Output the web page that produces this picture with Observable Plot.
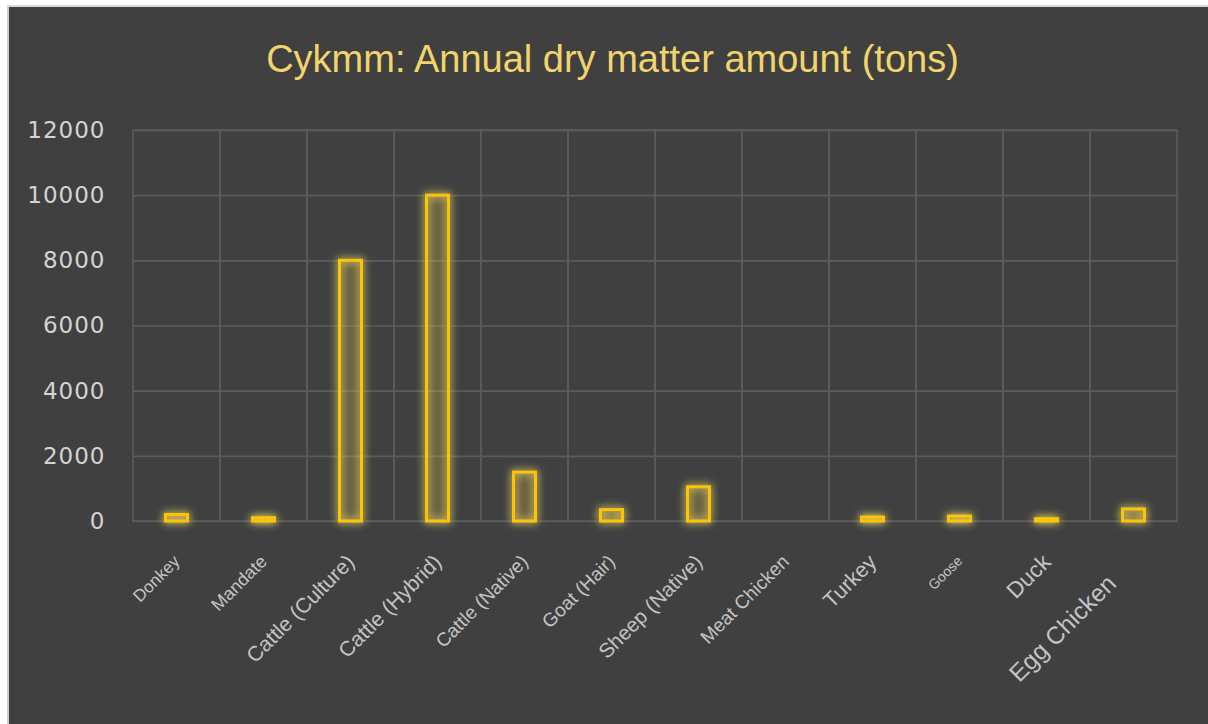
<!DOCTYPE html>
<html>
<head>
<meta charset="utf-8">
<script src="https://cdn.jsdelivr.net/npm/d3@7"></script>
<script src="https://cdn.jsdelivr.net/npm/@observablehq/plot@0.6"></script>
<style>
  html, body { margin: 0; padding: 0; background: #ffffff; width: 1208px; height: 724px; overflow: hidden; }
  #wrap { position: absolute; left: 7px; top: 5px; width: 1201px; height: 719px;
          border-left: 2px solid #cfcfcf; border-top: 2px solid #d8d8d8; background: #404040; }
  #title { position: absolute; left: 4px; top: 33px; width: 1199px; text-align: center;
           font-family: "Liberation Sans", Arial, sans-serif; font-size: 38px; line-height: 38px;
           color: #f2d46c; white-space: nowrap; }
  #chart { position: absolute; left: 0; top: 0; }
</style>
</head>
<body>
<div id="wrap">
  <div id="title">Cykmm: Annual dry matter amount (tons)</div>
  <div id="chart"></div>
</div>
<script>
// ---- data ----
const categories = ["Donkey", "Mandate", "Cattle (Culture)", "Cattle (Hybrid)", "Cattle (Native)",
  "Goat (Hair)", "Sheep (Native)", "Meat Chicken", "Turkey", "Goose", "Duck", "Egg Chicken"];
const amounts = [200, 100, 8000, 10000, 1500, 350, 1050, 0, 120, 150, 70, 370];
const yTicks = [0, 2000, 4000, 6000, 8000, 10000, 12000];

// ---- styling (not data) ----
const labelSize = {
  "Donkey": 17, "Mandate": 18, "Cattle (Culture)": 21, "Cattle (Hybrid)": 21,
  "Cattle (Native)": 19, "Goat (Hair)": 19, "Sheep (Native)": 20.5, "Meat Chicken": 19,
  "Turkey": 21.5, "Goose": 14, "Duck": 22.5, "Egg Chicken": 24.5
};
const gridColor = "#5b5b5b";
const gold = "#ffc400";

const rows = categories.map((c, i) => ({category: c, amount: amounts[i]}));
const isEgg = d => d === "Egg Chicken";

const labelOpts = {x: d => d, y: () => 0, text: d => d, rotate: -45, textAnchor: "end",
  fontSize: d => labelSize[d], fill: "#c4c4c4",
  fontFamily: "Liberation Sans, Arial, sans-serif"};

const plot = Plot.plot({
  width: 1199,
  height: 717,
  marginLeft: 124,
  marginRight: 31,
  marginTop: 123,
  marginBottom: 203,
  style: {background: "transparent", color: "#d9d9d9", fontFamily: "Liberation Sans, Arial, sans-serif", overflow: "visible"},
  x: {type: "band", domain: categories, padding: 0, axis: null},
  y: {domain: [0, 12000], axis: null},
  marks: [
    Plot.ruleY(yTicks, {stroke: gridColor, strokeWidth: 1.6}),
    Plot.barY(categories, {x: d => d, y1: () => 0, y2: () => 12000, fill: "none",
      stroke: gridColor, strokeWidth: 1.6}),
    Plot.axisY({ticks: yTicks, tickSize: 0, tickPadding: 28, fontSize: 23,
      fontFamily: "DejaVu Sans", fill: "#d4d4d4", label: null, tickFormat: d => String(d),
      ariaDescription: "yticks"}),
    Plot.barY(rows, {x: "category", y: "amount", fill: gold, fillOpacity: 0.1,
      stroke: gold, strokeWidth: 3, insetLeft: 32.5, insetRight: 32.5, ariaDescription: "values"}),
    Plot.text(categories.filter(d => !isEgg(d)), {...labelOpts, dx: 0, dy: 37}),
    Plot.text(categories.filter(isEgg), {...labelOpts, dx: -22, dy: 58})
  ]
});

// soft golden glow around the bars
const ns = "http://www.w3.org/2000/svg";
const defs = document.createElementNS(ns, "defs");
const filter = document.createElementNS(ns, "filter");
filter.setAttribute("id", "glow");
filter.setAttribute("filterUnits", "userSpaceOnUse");
filter.setAttribute("x", "0"); filter.setAttribute("y", "0");
filter.setAttribute("width", "1199"); filter.setAttribute("height", "717");
const blur = document.createElementNS(ns, "feGaussianBlur");
blur.setAttribute("in", "SourceAlpha"); blur.setAttribute("stdDeviation", "4.5"); blur.setAttribute("result", "blur");
const cm = document.createElementNS(ns, "feColorMatrix");
cm.setAttribute("in", "blur"); cm.setAttribute("type", "matrix");
cm.setAttribute("values", "0 0 0 0 0.62  0 0 0 0 0.56  0 0 0 0 0.12  0 0 0 1.6 0");
cm.setAttribute("result", "glow");
const merge = document.createElementNS(ns, "feMerge");
for (const src of ["glow", "SourceGraphic"]) {
  const n = document.createElementNS(ns, "feMergeNode");
  n.setAttribute("in", src);
  merge.appendChild(n);
}
filter.appendChild(blur); filter.appendChild(cm); filter.appendChild(merge);
defs.appendChild(filter);
plot.insertBefore(defs, plot.firstChild);
const g = plot.querySelector('g[aria-description="values"]');
if (g) g.setAttribute("filter", "url(#glow)");
const yt = plot.querySelector('g[aria-description="yticks"]');
if (yt) yt.style.letterSpacing = "1px";
document.getElementById("chart").appendChild(plot);
</script>
</body>
</html>
